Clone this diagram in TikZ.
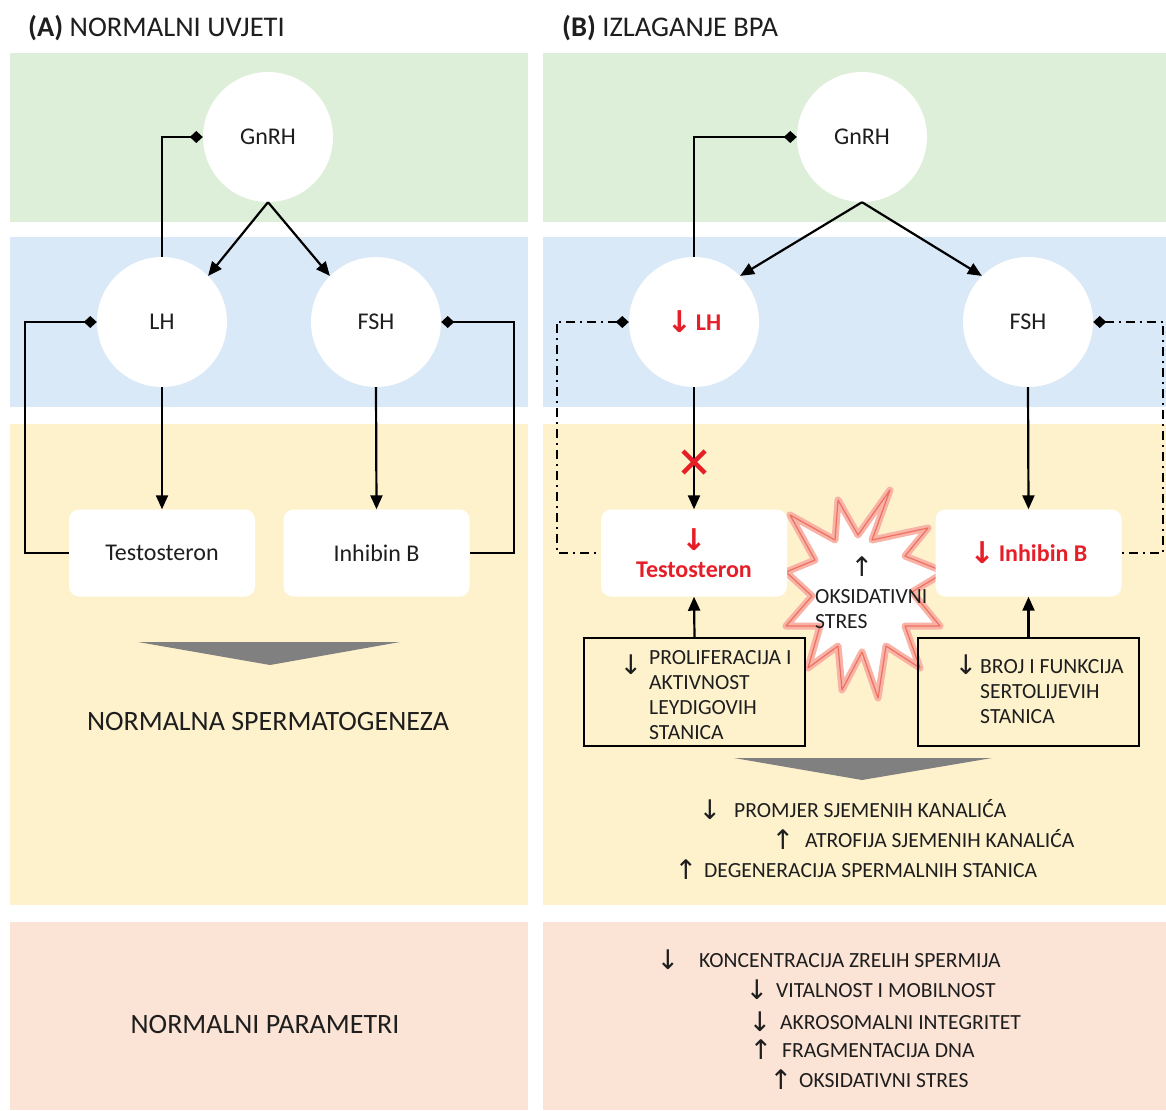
\documentclass[tikz,border=0pt]{standalone}
\usepackage{fontspec}
\usepackage{graphicx}
\setmainfont{Carlito}
\newfontfamily\arrfont{DejaVu Sans}
\newcommand{\dn}{\raisebox{-0.08em}{\scalebox{1.25}{\arrfont ↓}}}
\newcommand{\upa}{\raisebox{-0.08em}{\scalebox{1.25}{\arrfont ↑}}}
\usetikzlibrary{arrows.meta}
\definecolor{bgreen}{RGB}{221,239,216}
\definecolor{bblue}{RGB}{218,233,247}
\definecolor{byellow}{RGB}{254,242,205}
\definecolor{bpink}{RGB}{251,227,214}
\definecolor{redtxt}{RGB}{230,30,40}
\definecolor{glow}{RGB}{248,178,166}
\definecolor{glowline}{RGB}{238,112,96}
\definecolor{chev}{RGB}{128,128,128}
\definecolor{txt}{RGB}{30,30,30}
\begin{document}
\begin{tikzpicture}[x=1pt,y=-1pt,
  hormone/.style={circle, fill=white, minimum size=130pt, inner sep=0pt, text=txt, font=\fontsize{24}{28}\selectfont},
  outbox/.style={rounded corners=10pt, fill=white, minimum width=186pt, minimum height=87pt, inner sep=0pt, text=txt, font=\fontsize{24}{28}\selectfont},
  stim/.style={-{Triangle[length=14pt,width=12pt]}, line width=2.2pt},
  inhib/.style={{Diamond[length=13pt,width=12pt]}-, line width=2.2pt},
  dashdotline/.style={dash pattern=on 9pt off 5pt on 2pt off 5pt},
  infobox/.style={draw, line width=1.2pt, minimum width=221pt, minimum height=108pt, inner sep=0pt},
  lst/.style={inner sep=0pt, text=txt, font=\fontsize{21.6}{25}\selectfont},
  big/.style={inner sep=0pt, text=txt, font=\fontsize{28}{32}\selectfont},
  ttl/.style={inner sep=0pt, text=txt, font=\fontsize{28.5}{32}\selectfont}]
\useasboundingbox (0,0) rectangle (1166,1110);
\fill[white] (0,0) rectangle (1166,1110);
% bands
\foreach \xa/\xb in {10/528, 543/1166}{
  \fill[bgreen] (\xa,53) rectangle (\xb,222);
  \fill[bblue] (\xa,237) rectangle (\xb,407);
  \fill[byellow] (\xa,424) rectangle (\xb,905);
  \fill[bpink] (\xa,922) rectangle (\xb,1110);
}
% titles
\node[ttl, anchor=base west] (tA) at (28,37) {\textbf{(A)} NORMALNI UVJETI};
\node[ttl, anchor=base west] (tB) at (562,37) {\textbf{(B)} IZLAGANJE BPA};

% ---------- Panel A ----------
\node[hormone] (gnA) at (268,137) {GnRH};
\node[hormone] (lhA) at (162,322) {LH};
\node[hormone] (fshA) at (376,322) {FSH};
\node[outbox] (testA) at (162,553) {Testosteron};
\node[outbox] (inhA) at (376.5,553) {Inhibin B};
\draw[stim] (gnA.south) -- (lhA.45);
\draw[stim] (gnA.south) -- (fshA.135);
\draw[stim] (lhA.south) -- (testA.north);
\draw[stim] (fshA.south) -- (inhA.north);
\draw[inhib] (gnA.west) -| (lhA.north);
\draw[inhib] (lhA.west) -- ++(-72,0) |- (testA.west);
\draw[inhib] (fshA.east) -- ++(73,0) |- (inhA.east);
\fill[chev] (138,642) -- (400,642) -- (270,665) -- cycle;
\node[big] (spA) at (268,722) {NORMALNA SPERMATOGENEZA};
\node[big] (parA) at (265,1024) {NORMALNI PARAMETRI};

% ---------- Panel B ----------
% starburst
\filldraw[fill=white, draw=glow, line width=7pt, line join=round]
  (890,490) -- (872,540) -- (928,528) -- (905,556) -- (945,572) -- (912,592)
  -- (940,626) -- (905,626) -- (920,668) -- (886,646) -- (878,698) -- (862,652)
  -- (842,690) -- (838,646) -- (808,668) -- (820,626) -- (786,626) -- (812,596)
  -- (786,572) -- (815,560) -- (790,515) -- (835,540) -- (838,500) -- (858,535) -- cycle;
\draw[draw=glowline, line width=1.2pt, line join=round]
  (890,490) -- (872,540) -- (928,528) -- (905,556) -- (945,572) -- (912,592)
  -- (940,626) -- (905,626) -- (920,668) -- (886,646) -- (878,698) -- (862,652)
  -- (842,690) -- (838,646) -- (808,668) -- (820,626) -- (786,626) -- (812,596)
  -- (786,572) -- (815,560) -- (790,515) -- (835,540) -- (838,500) -- (858,535) -- cycle;

\node[hormone] (gnB) at (862,137) {GnRH};
\node[hormone, text=redtxt, font=\fontsize{24}{28}\selectfont\bfseries] (lhB) at (694,322) {\dn\,LH};
\node[hormone] (fshB) at (1028,322) {FSH};
\node[outbox, text=redtxt, align=center, font=\fontsize{24}{29}\selectfont\bfseries] (testB) at (694,553) {\dn\\Testosteron};
\node[outbox, text=redtxt, font=\fontsize{24}{28}\selectfont\bfseries] (inhB) at (1028.5,553) {\dn\,Inhibin B};
\draw[stim] (gnB.south) -- (lhB.45);
\draw[stim] (gnB.south) -- (fshB.135);
\draw[stim] (lhB.south) -- (testB.north);
\draw[stim] (fshB.south) -- (inhB.north);
\draw[inhib] (gnB.west) -| (lhB.north);
\draw[inhib, dashdotline] (lhB.west) -- ++(-72,0) |- (testB.west);
\draw[inhib, dashdotline] (fshB.east) -- ++(70,0) |- (inhB.east);
% red cross on LH -> testosteron
\draw[redtxt, line width=4.5pt] (683,451) -- (705,473) (683,473) -- (705,451);

% oxidative stress text
\node[lst] (oxArr) at (862,567) {\upa};
\node[lst, anchor=north west, align=left] (oxTxt) at (815,589.5) {OKSIDATIVNI\\STRES};

% boxes
\node[infobox] (prolB) at (694.5,692) {};
\node[infobox] (brojB) at (1028.5,692) {};
\draw[stim] (prolB.north) -- (testB.south);
\draw[stim] (brojB.north) -- (inhB.south);
\node[lst] (prolArr) at (631,665) {\dn};
\node[lst, anchor=north west, align=left] (prolTxt) at (649,650.5) {PROLIFERACIJA I\\AKTIVNOST\\LEYDIGOVIH\\STANICA};
\node[lst] (brojArr) at (966,665) {\dn};
\node[lst, anchor=north west, align=left] (brojTxt) at (980,659.5) {BROJ I FUNKCIJA\\SERTOLIJEVIH\\STANICA};

\fill[chev] (734,758) -- (992,758) -- (862,780) -- cycle;

% effects list
\node[lst] (e1a) at (710,810) {\dn};
\node[lst, anchor=base west] (e1) at (734,817.5) {PROMJER SJEMENIH KANALIĆA};
\node[lst] (e2a) at (783,840) {\upa};
\node[lst, anchor=base west] (e2) at (805,847.5) {ATROFIJA SJEMENIH KANALIĆA};
\node[lst] (e3a) at (686,870) {\upa};
\node[lst, anchor=base west] (e3) at (704,877.5) {DEGENERACIJA SPERMALNIH STANICA};

% parameters list
\node[lst] (p1a) at (668,960) {\dn};
\node[lst, anchor=base west] (p1) at (699,967.5) {KONCENTRACIJA ZRELIH SPERMIJA};
\node[lst] (p2a) at (757,990) {\dn};
\node[lst, anchor=base west] (p2) at (776,997.5) {VITALNOST I MOBILNOST};
\node[lst] (p3a) at (760,1022) {\dn};
\node[lst, anchor=base west] (p3) at (780,1029.5) {AKROSOMALNI INTEGRITET};
\node[lst] (p4a) at (761,1050) {\upa};
\node[lst, anchor=base west] (p4) at (782,1057.5) {FRAGMENTACIJA DNA};
\node[lst] (p5a) at (781,1080) {\upa};
\node[lst, anchor=base west] (p5) at (799,1087.5) {OKSIDATIVNI STRES};
\end{tikzpicture}
\end{document}
